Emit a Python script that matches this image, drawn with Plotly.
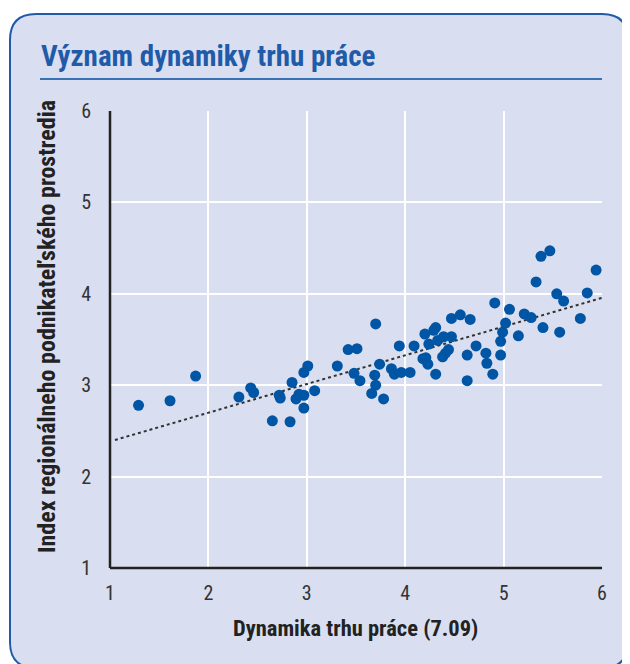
import numpy as np
import plotly.graph_objects as go

# Data
dynamika = [1.29, 1.61, 1.87, 2.31, 2.43, 2.46, 2.65, 2.72, 2.73, 2.83,
            2.85, 2.89, 2.92, 2.97, 2.97, 2.97, 3.01, 3.08, 3.31, 3.42,
            3.51, 3.48, 3.54, 3.70, 3.69, 3.74, 3.70, 3.66, 3.78, 3.86,
            3.89, 3.94, 3.96, 4.05, 4.09, 4.20, 4.18, 4.21, 4.23, 4.24,
            4.31, 4.31, 4.29, 4.33, 4.39, 4.47, 4.41, 4.38, 4.44, 4.47,
            4.56, 4.66, 4.72, 4.63, 4.63, 4.82, 4.83, 4.89, 4.91, 4.97,
            4.97, 4.99, 5.02, 5.06, 5.15, 5.21, 5.28, 5.33, 5.38, 5.47,
            5.40, 5.54, 5.61, 5.57, 5.78, 5.85, 5.94]
index_prostredia = [2.78, 2.83, 3.10, 2.87, 2.97, 2.92, 2.61, 2.89, 2.86, 2.60,
                    3.03, 2.85, 2.90, 2.89, 2.75, 3.14, 3.21, 2.94, 3.21, 3.39,
                    3.40, 3.13, 3.05, 3.67, 3.11, 3.23, 3.00, 2.91, 2.85, 3.18,
                    3.12, 3.43, 3.14, 3.14, 3.43, 3.56, 3.29, 3.30, 3.23, 3.45,
                    3.12, 3.63, 3.60, 3.49, 3.53, 3.53, 3.35, 3.31, 3.39, 3.73,
                    3.77, 3.72, 3.43, 3.33, 3.05, 3.35, 3.24, 3.12, 3.90, 3.33,
                    3.48, 3.58, 3.68, 3.83, 3.54, 3.78, 3.74, 4.13, 4.41, 4.47,
                    3.63, 4.00, 3.92, 3.58, 3.73, 4.01, 4.26]
tick_vals = [1, 2, 3, 4, 5, 6]
trend_range = [1.05, 6.0]

title_text = "Význam dynamiky trhu práce"
x_title = "Dynamika trhu práce (7.09)"
y_title = "Index regionálneho podnikateľského prostredia"

BG = "#d9dff0"
BLUE = "#0055a4"
BORDER = "#1f5ba8"
FONT = "Liberation Sans Narrow, Arial Narrow, Roboto Condensed, sans-serif"

slope, intercept = np.polyfit(dynamika, index_prostredia, 1)
tx = np.array(trend_range)
ty = slope * tx + intercept

# page has an 8px body margin; figure coords = page coords - 8
OFF = 8
W, H = 630 - OFF, 664 - OFF
ml, mr, mt, mb = 110 - OFF, 28, 111 - OFF, 96
pw, ph = W - ml - mr, H - mt - mb


def px2x(p):
    return (p - OFF - ml) / pw


def py2y(p):
    return 1 - (p - OFF - mt) / ph


fig = go.Figure()
fig.add_trace(go.Scatter(x=list(tx), y=list(ty), mode="lines",
                         line=dict(color="#333333", width=2, dash="dot"),
                         hoverinfo="skip", showlegend=False))
fig.add_trace(go.Scatter(x=dynamika, y=index_prostredia, mode="markers",
                         marker=dict(color=BLUE, size=11, line=dict(width=0)),
                         showlegend=False))

# rounded card
x0, x1 = px2x(10), px2x(628)
y0, y1 = py2y(668), py2y(14)
rx, ry = 26 / pw, 26 / ph
path = (f"M {x0+rx},{y1} L {x1-rx},{y1} Q {x1},{y1} {x1},{y1-ry} "
        f"L {x1},{y0+ry} Q {x1},{y0} {x1-rx},{y0} L {x0+rx},{y0} "
        f"Q {x0},{y0} {x0},{y0+ry} L {x0},{y1-ry} Q {x0},{y1} {x0+rx},{y1} Z")
fig.add_shape(type="path", path=path, xref="paper", yref="paper",
              fillcolor=BG, line=dict(color=BORDER, width=2), layer="below")
# title underline
fig.add_shape(type="line", xref="paper", yref="paper",
              x0=px2x(40), x1=px2x(602), y0=py2y(79), y1=py2y(79),
              line=dict(color="#3a72b6", width=2))

fig.add_annotation(text=f"<b>{title_text}</b>", xref="paper", yref="paper",
                   x=px2x(39), y=py2y(56), xanchor="left", yanchor="middle",
                   showarrow=False, font=dict(family=FONT, size=29, color=BORDER))
fig.add_annotation(text=f"<b>{x_title}</b>", xref="paper", yref="paper",
                   x=px2x(355), y=py2y(628), xanchor="center", yanchor="middle",
                   showarrow=False, font=dict(family=FONT, size=22.5, color="#222222"))
fig.add_annotation(text=f"<b>{y_title}</b>", xref="paper", yref="paper",
                   x=px2x(47), y=py2y(327), xanchor="center", yanchor="middle",
                   textangle=-90, showarrow=False,
                   font=dict(family=FONT, size=24, color="#222222"))

axis_common = dict(tickvals=tick_vals, showgrid=True, gridcolor="white", gridwidth=2,
                   zeroline=False, showline=False, ticks="",
                   tickfont=dict(family=FONT, size=20, color="#333333"))
fig.update_xaxes(range=[1, 6], ticklabelstandoff=11, **axis_common)
fig.update_yaxes(range=[1, 6], ticklabelstandoff=18, **axis_common)

# axis lines (left and bottom)
fig.add_shape(type="line", xref="paper", yref="paper", x0=0, x1=0, y0=0, y1=1,
              line=dict(color="#222222", width=2.5))
fig.add_shape(type="line", xref="paper", yref="paper", x0=0, x1=1, y0=0, y1=0,
              line=dict(color="#222222", width=2.5))

fig.update_layout(width=W, height=H, margin=dict(l=ml, r=mr, t=mt, b=mb),
                  paper_bgcolor="white", plot_bgcolor=BG,
                  font=dict(family=FONT))
fig.write_html("out.html")
